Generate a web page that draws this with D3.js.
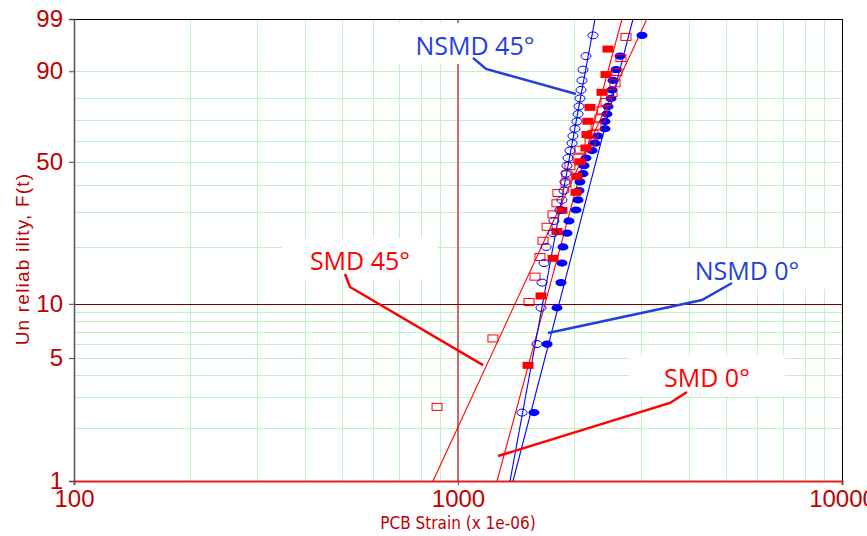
<!DOCTYPE html>
<html><head><meta charset="utf-8">
<script src="https://cdn.jsdelivr.net/npm/d3@7/dist/d3.min.js"></script>
<style>html,body{margin:0;padding:0;background:#fff}svg{display:block}</style>
</head><body>
<svg id="chart" width="867" height="536"></svg>
<script>
// ---------------- DATA ----------------
const seriesNames = ["SMD 0°", "SMD 45°", "NSMD 0°", "NSMD 45°"];

// PCB strain (x 1e-06) of each failure, and its unreliability F(t) in %
const smd0Strain  = [1522, 1645, 1768, 1810, 1865, 2029, 2041, 2078, 2154, 2167, 2180, 2207, 2371, 2429, 2458];
const smd0F       = [4.55, 11.04, 17.53, 24.03, 30.52, 37.01, 43.51, 50.00, 56.49, 62.99, 69.48, 75.97, 82.47, 88.96, 95.45];

const smd45Strain = [882, 1233, 1531, 1587, 1635, 1665, 1706, 1768, 1810, 1821, 1911, 1922, 1957, 2054, 2078, 2207, 2247, 2288, 2343, 2371, 2429, 2518, 2564, 2594, 2657, 2738];
const smd45F      = [2.65, 6.44, 10.23, 14.02, 17.80, 21.59, 25.38, 29.17, 32.95, 36.74, 40.53, 44.32, 48.11, 51.89, 55.68, 59.47, 63.26, 67.05, 70.83, 74.62, 78.41, 82.20, 85.98, 89.77, 93.56, 97.35];

const nsmd0Strain = [1577, 1706, 1810, 1854, 1865, 1876, 1922, 1945, 2029, 2054, 2066, 2078, 2116, 2129, 2154, 2234, 2274, 2315, 2414, 2414, 2443, 2458, 2503, 2518, 2533, 2579, 2642, 3014];
const nsmd45Strain = [1468, 1606, 1645, 1655, 1675, 1696, 1768, 1778, 1843, 1865, 1888, 1899, 1911, 1922, 1934, 1957, 1981, 1992, 2016, 2041, 2054, 2066, 2078, 2091, 2103, 2116, 2154, 2247];
const nsmdF       = [2.46, 5.99, 9.51, 13.03, 16.55, 20.07, 23.59, 27.11, 30.63, 34.15, 37.68, 41.20, 44.72, 48.24, 51.76, 55.28, 58.80, 62.32, 65.85, 69.37, 72.89, 76.41, 79.93, 83.45, 86.97, 90.49, 94.01, 97.54];

// fitted Weibull lines: strain at F = 1 % and at F = 99 %
const fitLow  = [1264, 861, 1391, 1366];
const fitHigh = [2674, 3104, 2856, 2274];

// axis ticks
const xTicks = [100, 1000, 10000];
const xTickLabels = ["100", "1000", "10000"];
const yTicks = [1, 5, 10, 50, 90, 99];
const yTickLabels = ["1", "5", "10", "50", "90", "99"];
const xGrid = [200, 300, 400, 500, 600, 700, 800, 900, 2000, 3000, 4000, 5000, 6000, 7000, 8000, 9000];
const yGrid = [2, 3, 4, 5, 6, 7, 8, 9, 20, 30, 40, 50, 60, 70, 80, 90];

// annotation labels (position in data units: strain, F %) and leader lines
const labelText   = ["NSMD 45°", "NSMD 0°", "SMD 45°", "SMD 0°"];
const labelStrain = [1107, 5656, 555.5, 4450];
const labelF      = [94.25, 13.46, 15.21, 3.43];
const leaderStrain = [[1094, 1183, 2029], [5170, 4319, 1716], [507.8, 523.3, 1162], [3948, 3565, 1271]];
const leaderF      = [[93.6, 90.7, 81.8], [12.97, 10.49, 6.90], [14.49, 12.34, 4.57], [3.22, 2.79, 1.39]];

// ---------------- DRAW ----------------
const L = 74, R = 842, T = 19, B = 481;
const RED = "#ff0000", BLUE = "#0000ff", AXRED = "#c00000";
const annColor = ["#1f3fdf", "#1f3fdf", "#ff0000", "#ff0000"];

const x = d3.scaleLog().domain([100, 10000]).range([L, R]);
const wf = p => Math.log(-Math.log(1 - p / 100));
const yLin = d3.scaleLinear().domain([wf(1), wf(99)]).range([B, T]);
const y = p => yLin(wf(p));

const svg = d3.select("#chart");
svg.append("defs").append("clipPath").attr("id", "plotclip")
  .append("rect").attr("x", L).attr("y", T).attr("width", R - L).attr("height", B - T);

// grid
const grid = svg.append("g");
grid.selectAll("line.vg").data(xGrid).join("line")
  .attr("x1", d => Math.round(x(d)) + 0.5).attr("x2", d => Math.round(x(d)) + 0.5).attr("y1", T).attr("y2", B)
  .attr("stroke", "#bff3bf").attr("stroke-width", 1);
grid.selectAll("line.hg").data(yGrid).join("line")
  .attr("x1", L).attr("x2", R).attr("y1", d => Math.round(y(d)) + 0.5).attr("y2", d => Math.round(y(d)) + 0.5)
  .attr("stroke", "#bff3bf").attr("stroke-width", 1);

// reference lines: 1000 strain and 10 %
svg.append("line").attr("x1", x(1000)).attr("x2", x(1000)).attr("y1", T).attr("y2", B)
  .attr("stroke", "#cc6a6a").attr("stroke-width", 2);
svg.append("line").attr("x1", L).attr("x2", R).attr("y1", Math.round(y(10)) + 0.5).attr("y2", Math.round(y(10)) + 0.5)
  .attr("stroke", "#7a0000").attr("stroke-width", 1);

// label boxes (white)
const ann = svg.append("g");
labelText.forEach((t, i) => {
  const cx = x(labelStrain[i]), by = y(labelF[i]);
  ann.append("rect").attr("x", cx - 78).attr("y", by - 32).attr("width", 156).attr("height", 41).attr("fill", "#fff");
});

// frame
svg.append("line").attr("x1", L).attr("x2", R).attr("y1", T + 0.5).attr("y2", T + 0.5).attr("stroke", "#000");
svg.append("line").attr("x1", R + 0.5).attr("x2", R + 0.5).attr("y1", T).attr("y2", B).attr("stroke", "#000");

// axes
const xAxis = svg.append("g").attr("transform", `translate(0,${B})`)
  .call(d3.axisBottom(x).tickValues(xTicks).tickFormat((d, i) => xTickLabels[i]).tickSize(4).tickPadding(2));
xAxis.select(".domain").attr("stroke", "#e02020").attr("stroke-width", 2);
xAxis.selectAll(".tick line").attr("stroke", "#555");
xAxis.selectAll(".tick text").attr("fill", AXRED).style("font-family", "Liberation Sans, Arial, sans-serif").style("font-size", "24px").attr("dy", "0.85em");

const yAxis = svg.append("g").attr("transform", `translate(${L},0)`)
  .call(d3.axisLeft(yLin).tickValues(yTicks.map(wf)).tickFormat((d, i) => yTickLabels[i]).tickSize(5).tickPadding(6));
yAxis.select(".domain").attr("stroke", "#555").attr("stroke-width", 1.5);
yAxis.selectAll(".tick line").attr("stroke", "#444");
yAxis.selectAll(".tick text").attr("fill", AXRED).style("font-family", "Liberation Sans, Arial, sans-serif").style("font-size", "24px");

// axis titles
svg.append("text").attr("x", x(1000)).attr("y", 529).attr("text-anchor", "middle")
  .attr("fill", AXRED).style("font-family", "DejaVu Sans Condensed, Liberation Sans Narrow, Liberation Sans, sans-serif").style("font-size", "17px")
  .text("PCB Strain (x 1e-06)");
svg.append("text").attr("transform", `translate(29,${(T + B) / 2 + 9}) rotate(-90)`).attr("text-anchor", "middle")
  .attr("fill", AXRED).style("font-family", "Liberation Sans, Arial, sans-serif").style("font-size", "19px")
  .style("letter-spacing", "1.2px")
  .text("Un reliab ility,  F(t)");

// fit lines
const plot = svg.append("g").attr("clip-path", "url(#plotclip)");
const lineColors = [RED, RED, BLUE, BLUE];
fitLow.forEach((lo, i) => {
  plot.append("line").attr("x1", x(lo)).attr("y1", y(1)).attr("x2", x(fitHigh[i])).attr("y2", y(99))
    .attr("stroke", lineColors[i]).attr("stroke-width", 1.1);
});

// points
const smd0 = smd0Strain.map((s, i) => [s, smd0F[i]]);
const smd45 = smd45Strain.map((s, i) => [s, smd45F[i]]);
const nsmd0 = nsmd0Strain.map((s, i) => [s, nsmdF[i]]);
const nsmd45 = nsmd45Strain.map((s, i) => [s, nsmdF[i]]);

plot.append("g").selectAll("ellipse").data(nsmd0).join("ellipse")
  .attr("cx", d => x(d[0])).attr("cy", d => y(d[1])).attr("rx", 5.5).attr("ry", 3.6).attr("fill", BLUE);
plot.append("g").selectAll("rect").data(smd0).join("rect")
  .attr("x", d => x(d[0]) - 5.5).attr("y", d => y(d[1]) - 3.5).attr("width", 11).attr("height", 7).attr("fill", RED);
plot.append("g").selectAll("rect").data(smd45).join("rect")
  .attr("x", d => x(d[0]) - 5).attr("y", d => y(d[1]) - 3.5).attr("width", 10).attr("height", 7)
  .attr("fill", "none").attr("stroke", RED).attr("stroke-width", 1);
plot.append("g").selectAll("ellipse").data(nsmd45).join("ellipse")
  .attr("cx", d => x(d[0])).attr("cy", d => y(d[1])).attr("rx", 5).attr("ry", 3.5)
  .attr("fill", "none").attr("stroke", BLUE).attr("stroke-width", 1);

// leaders and labels
leaderStrain.forEach((ls, i) => {
  const pts = ls.map((s, j) => [x(s), y(leaderF[i][j])]);
  svg.append("path").attr("d", d3.line()(pts)).attr("fill", "none")
    .attr("stroke", annColor[i]).attr("stroke-width", 2.5);
});
labelText.forEach((t, i) => {
  svg.append("text").attr("x", x(labelStrain[i])).attr("y", y(labelF[i])).attr("text-anchor", "middle")
    .attr("fill", annColor[i]).style("font-family", "Open Sans, Noto Sans, sans-serif").style("font-size", "25px")
    .text(t);
});
</script>
</body></html>
